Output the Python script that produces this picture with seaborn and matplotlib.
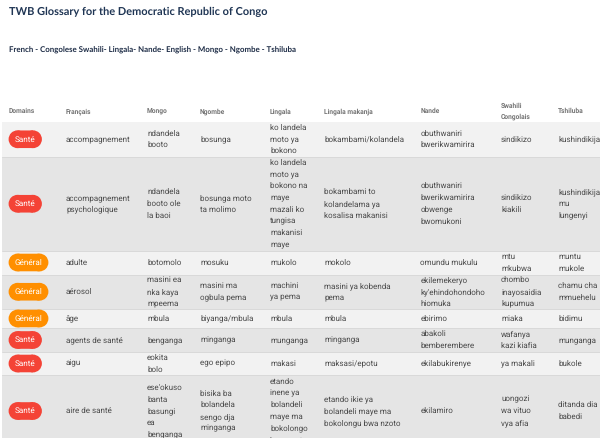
import matplotlib
matplotlib.use("Agg")
import matplotlib.pyplot as plt
from matplotlib.patches import FancyBboxPatch
import seaborn as sns

title = "TWB Glossary for the Democratic Republic of Congo"
subtitle = "French - Congolese Swahili- Lingala- Nande- English - Mongo - Ngombe - Tshiluba"
headers = ["Domains", "Français", "Mongo", "Ngombe", "Lingala", "Lingala makanja", "Nande",
           "Swahili\nCongolais", "Tshiluba"]
domains = ["Santé", "Santé", "Général", "Général", "Général", "Santé", "Santé", "Santé"]
francais = ["accompagnement", "accompagnement\npsychologique", "adulte", "aérosol", "âge",
            "agents de santé", "aigu", "aire de santé"]
mongo = ["ndandela\nbooto", "ndandela\nbooto ole\nla baoi", "botomolo", "masini ea\nnka kaya\nmpeema",
         "mbula", "benganga", "eokita\nbolo", "ese'okuso\nbanta\nbasungi\nea\nbenganga"]
ngombe = ["bosunga", "bosunga moto\nta molimo", "mosuku", "masini ma\nogbula pema", "biyanga/mbula",
          "minganga", "ego epipo", "bisika ba\nbolandela\nsengo dja\nminganga"]
lingala = ["ko landela\nmoto ya\nbokono",
           "ko landela\nmoto ya\nbokono na\nmaye\nmazali ko\ntungisa\nmakanisi\nmaye",
           "mukolo", "machini\nya pema", "mbula", "munganga", "makasi",
           "etando\ninene ya\nbolandeli\nmaye ma\nbokolongo\nbwa nzoto"]
makanja = ["bokambami/kolandela", "bokambami to\nkolandelama ya\nkosalisa makanisi", "mokolo",
           "masini ya kobenda\npema", "mbula", "minganga", "maksasi/epotu",
           "etando ikie ya\nbolandeli maye ma\nbokolongu bwa nzoto"]
nande = ["obuthwaniri\nbwerikwamirira", "obuthwaniri\nbwerikwamirira\nobwenge\nbwomukoni",
         "omundu mukulu", "ekilemekeryo\nky'ehindohondoho\nhiomuka", "ebirimo",
         "abakoli\nbemberembere", "ekilabukirenye", "ekilamiro"]
swahili = ["sindikizo", "sindikizo\nkiakili", "mtu\nmkubwa", "chombo\ninayosaidia\nkupumua", "miaka",
           "wafanya\nkazi kiafia", "ya makali", "uongozi\nwa vituo\nvya afia"]
tshiluba = ["kushindikija", "kushindikija\nmu\nlungenyi", "muntu\nmukole", "chamu cha\nmmuehelu",
            "bidimu", "munganga", "bukole", "ditanda dia\nbabedi"]
columns = [francais, mongo, ngombe, lingala, makanja, nande, swahili, tshiluba]

# layout (pixels)
col_x = [8.5, 66, 147, 200, 270, 324.5, 420.5, 501, 558]
row_edges = [121.5, 157, 250.5, 274.5, 309, 328, 352, 375, 447]
line_h = 11.7

sns.set_theme(style="white")
plt.rcParams["font.family"] = ["Roboto", "DejaVu Sans"]
plt.rcParams["text.hinting"] = "no_hinting"

fig = plt.figure(figsize=(6, 4.38), dpi=100)
ax = fig.add_axes([0, 0, 1, 1])
ax.set_xlim(0, 600)
ax.set_ylim(438, 0)
ax.axis("off")
PX = 0.72

ax.text(9, 11.5, title, family="Lato", fontsize=11.0 * PX, color="#1f3554", weight="bold",
        va="center", ha="left")
ax.text(9, 50.5, subtitle, family="Lato", fontsize=7.9 * PX, color="#1c2b45", weight="bold",
        va="center", ha="left")


def put_lines(x, cy, s, **kw):
    lines = s.split("\n")
    for i, ln in enumerate(lines):
        ax.text(x, cy + (i - (len(lines) - 1) / 2) * kw.get("lh", line_h), ln, va="center", ha="left",
                clip_on=True, **{k: v for k, v in kw.items() if k != "lh"})


for x, h in zip(col_x, headers):
    put_lines(x, 111.5, h, fontsize=6.7 * PX, color="#757575", weight="bold", lh=10)

for r, dom in enumerate(domains):
    top, bot = row_edges[r], row_edges[r + 1]
    shade = "#f2f2f2" if r % 2 == 0 else "#e5e5e5"
    ax.barh((top + bot) / 2, 598, height=bot - top, left=2, color=shade, linewidth=0, zorder=0)
    ax.plot([2, 600], [bot, bot], color="#d9d9d9", lw=0.7, zorder=1)
    cy = (top + bot) / 2
    w = 33.5 if dom == "Santé" else 40
    col = "#f44336" if dom == "Santé" else "#ff8f00"
    ax.add_patch(FancyBboxPatch((8.5 + 9, cy - 9 + 0.2), w - 18, 18 - 0.4,
                                boxstyle="round,pad=0,rounding_size=0", linewidth=0, facecolor=col, zorder=2))
    ax.add_patch(plt.Circle((8.5 + 9, cy), 8.9, color=col, lw=0, zorder=2))
    ax.add_patch(plt.Circle((8.5 + w - 9, cy), 8.9, color=col, lw=0, zorder=2))
    ax.text(8.5 + w / 2, cy, dom, color="white", fontsize=8.2 * PX, ha="center", va="center", zorder=3)
    for x, col_vals in zip(col_x[1:], columns):
        put_lines(x, cy, col_vals[r], fontsize=8.0 * PX, color="#4a4a4a")

fig.savefig("out.png", dpi=100)
